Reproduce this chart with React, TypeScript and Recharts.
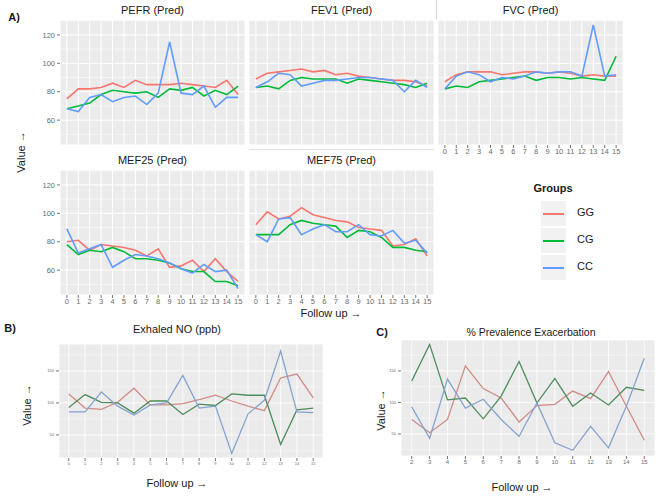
import { CartesianGrid, Line, LineChart, XAxis, YAxis } from "recharts";

const followUp = [0, 1, 2, 3, 4, 5, 6, 7, 8, 9, 10, 11, 12, 13, 14, 15];
const visits = [2, 3, 4, 5, 6, 7, 8, 9, 10, 11, 12, 13, 14, 15];
const groups = ["GG", "CG", "CC"];

// panel A, % predicted
const pefrGG = [75, 82, 82, 83, 86, 83, 88, 85, 85, 85, 86, 85, 84, 83, 88, 78];
const pefrCG = [68, 70, 72, 78, 81, 80, 79, 80, 76, 82, 81, 83, 77, 81, 78, 84];
const pefrCC = [68, 66, 76, 78, 73, 76, 77, 71, 79, 115, 79, 78, 84, 69, 76, 76];

const fev1GG = [89, 93, 94, 95, 96, 94, 95, 92, 93, 91, 90, 89, 88, 88, 87, 84];
const fev1CG = [83, 84, 82, 88, 90, 89, 89, 89, 86, 89, 88, 87, 86, 85, 83, 86];
const fev1CC = [83, 87, 93, 92, 84, 86, 88, 88, 89, 90, 90, 89, 88, 80, 88, 83];

const fvcGG = [87, 92, 94, 94, 94, 92, 93, 94, 94, 93, 94, 93, 91, 92, 91, 91];
const fvcCG = [82, 84, 83, 87, 88, 89, 90, 91, 88, 90, 90, 89, 90, 89, 88, 105];
const fvcCC = [82, 91, 94, 92, 87, 90, 89, 91, 94, 93, 94, 94, 91, 127, 91, 92];

const mef25GG = [80, 81, 74, 78, 77, 76, 74, 70, 75, 62, 63, 67, 59, 68, 59, 52];
const mef25CG = [78, 71, 74, 73, 76, 73, 68, 68, 67, 65, 61, 59, 59, 52, 52, 49];
const mef25CC = [89, 72, 75, 78, 62, 67, 71, 70, 68, 65, 61, 58, 64, 59, 60, 47];

const mef75GG = [92, 101, 96, 98, 104, 99, 97, 95, 94, 90, 89, 88, 77, 78, 82, 70];
const mef75CG = [85, 85, 85, 92, 95, 93, 92, 91, 83, 88, 87, 83, 76, 76, 74, 73];
const mef75CC = [85, 80, 96, 97, 85, 89, 92, 87, 87, 92, 85, 84, 88, 79, 81, 72];

// panel B
const enoGG = [114, 92, 90, 101, 123, 97, 97, 99, 105, 112, 103, 95, 88, 139, 145, 108];
const enoCG = [93, 113, 101, 100, 84, 103, 103, 82, 98, 96, 114, 112, 112, 35, 89, 92];
const enoCC = [86, 86, 117, 95, 81, 97, 100, 143, 92, 95, 21, 83, 104, 181, 86, 85];

// panel C
const exaGG = [73, 52, 73, 158, 122, 107, 69, 95, 97, 118, 106, 149, 94, 40];
const exaCG = [134, 192, 104, 107, 74, 110, 165, 99, 138, 94, 115, 96, 124, 119];
const exaCC = [93, 43, 137, 91, 105, 73, 46, 99, 36, 24, 62, 28, 94, 170];

const aTicks = [60, 80, 100, 120];
const aMinor = [50, 70, 90, 110, 130];
const bcTicks = [50, 100, 150];
const bcMinor = [25, 75, 125, 175];

const colorsA = ["#F8766D", "#00BA38", "#619CFF"];
const colorsBC = ["#D08C86", "#4F8C5E", "#86A3CF"];

const font = "'Liberation Sans', Arial, Helvetica, sans-serif";

type Row = { x: number; GG: number; CG: number; CC: number };

function rows(xs: number[], gg: number[], cg: number[], cc: number[]): Row[] {
  return xs.map((x, i) => ({ x, GG: gg[i], CG: cg[i], CC: cc[i] }));
}

type FacetProps = {
  left: number;
  top: number;
  w: number;
  h: number;
  data: Row[];
  xTicks: number[];
  xDomain: [number, number];
  yTicks: number[];
  yMinor: number[];
  yDomain: [number, number];
  showX?: boolean;
  showY?: boolean;
  yAxisW?: number;
  xAxisH?: number;
  tickFont: number;
  yTickFont?: number;
  colors: string[];
  lineWidth: number;
  grid: number;
};

function Facet(p: FacetProps) {
  const yw = p.showY ? p.yAxisW || 24 : 0;
  const xh = p.showX ? p.xAxisH || 14 : 0;
  const xTick = { fontSize: p.tickFont, fill: "#6b6b6b", fontFamily: font };
  const yTick = { fontSize: p.yTickFont || p.tickFont, fill: "#6b6b6b", fontFamily: font };
  return (
    <div style={{ position: "absolute", left: p.left - yw, top: p.top }}>
      <LineChart
        width={p.w + yw}
        height={p.h + xh}
        data={p.data}
        margin={{ top: 0, right: 0, bottom: 0, left: 0 }}
      >
        <CartesianGrid fill="#EBEBEB" stroke="#ffffff" strokeWidth={p.grid} />
        <CartesianGrid
          vertical={false}
          horizontalValues={p.yMinor}
          stroke="#ffffff"
          strokeWidth={p.grid / 2}
        />
        <XAxis
          type="number"
          dataKey="x"
          domain={p.xDomain}
          ticks={p.xTicks}
          interval={0}
          allowDataOverflow
          hide={!p.showX}
          height={xh}
          axisLine={false}
          tickSize={3}
          tickMargin={1}
          tickLine={{ stroke: "#777" }}
          tick={xTick}
        />
        <YAxis
          type="number"
          domain={p.yDomain}
          ticks={p.yTicks}
          interval={0}
          allowDataOverflow
          hide={!p.showY}
          width={yw}
          axisLine={false}
          tickSize={3}
          tickMargin={2}
          tickLine={{ stroke: "#777" }}
          tick={yTick}
        />
        {groups.map((g, i) => (
          <Line
            key={g}
            type="linear"
            dataKey={g}
            stroke={p.colors[i]}
            strokeWidth={p.lineWidth}
            dot={false}
            isAnimationActive={false}
          />
        ))}
      </LineChart>
    </div>
  );
}

function Label(props: { x: number; y: number; text: string; size?: number; bold?: boolean; rotate?: boolean }) {
  return (
    <div
      style={{
        position: "absolute",
        left: props.x,
        top: props.y,
        transform: `translate(-50%, -50%)${props.rotate ? " rotate(-90deg)" : ""}`,
        fontSize: props.size || 11,
        fontWeight: props.bold ? 700 : 400,
        fontFamily: font,
        color: "#1a1a1a",
        whiteSpace: "nowrap",
        lineHeight: 1,
      }}
    >
      {props.text}
    </div>
  );
}

const aFacet = {
  w: 185,
  h: 125,
  xTicks: followUp,
  xDomain: [-0.6, 15.6] as [number, number],
  yTicks: aTicks,
  yMinor: aMinor,
  yDomain: [42.5, 130.5] as [number, number],
  tickFont: 7.5,
  colors: colorsA,
  lineWidth: 1.6,
  grid: 1,
};

const facetsA = [
  { title: "PEFR (Pred)", left: 60, top: 20, data: rows(followUp, pefrGG, pefrCG, pefrCC), showY: true },
  { title: "FEV1 (Pred)", left: 249, top: 20, data: rows(followUp, fev1GG, fev1CG, fev1CC) },
  { title: "FVC (Pred)", left: 438, top: 20, data: rows(followUp, fvcGG, fvcCG, fvcCC), showX: true },
  { title: "MEF25 (Pred)", left: 60, top: 170, data: rows(followUp, mef25GG, mef25CG, mef25CC), showY: true, showX: true },
  { title: "MEF75 (Pred)", left: 249, top: 170, data: rows(followUp, mef75GG, mef75CG, mef75CC), showX: true },
];

export default function App() {
  return (
    <div style={{ position: "absolute", left: 0, top: 0, width: 656, height: 496, background: "#fff", fontFamily: font }}>
      <Label x={14} y={17} text="A)" bold />
      {facetsA.map((f) => (
        <div key={f.title}>
          <Label x={f.left + aFacet.w / 2} y={f.top - 10} text={f.title} />
          <Facet {...aFacet} left={f.left} top={f.top} data={f.data} showX={f.showX} showY={f.showY} />
        </div>
      ))}
      <div style={{ position: "absolute", left: 436, top: 0, width: 1, height: 19, background: "#d6d6d6" }} />
      <div style={{ position: "absolute", left: 249, top: 149, width: 185, height: 1, background: "#e2e2e2" }} />
      <Label x={21} y={152} text="Value →" rotate />
      <Label x={331} y={313} text="Follow up →" />

      <Label x={553} y={188} text="Groups" bold />
      {groups.map((g, i) => (
        <div key={g}>
          <div style={{ position: "absolute", left: 541, top: 201 + i * 27, width: 25, height: 25, background: "#F2F2F2" }}>
            <div style={{ position: "absolute", left: 2, top: 12, width: 21, height: 2, background: colorsA[i] }} />
          </div>
          <div style={{ position: "absolute", left: 577, top: 207 + i * 27, fontSize: 11, fontFamily: font, color: "#1a1a1a", lineHeight: 1 }}>
            {g}
          </div>
        </div>
      ))}

      <Label x={10} y={328} text="B)" bold />
      <Label x={177} y={329} text="Exhaled NO (ppb)" />
      <Facet
        left={59}
        top={344}
        w={264}
        h={114}
        data={rows(followUp, enoGG, enoCG, enoCC)}
        xTicks={followUp}
        xDomain={[-0.6, 15.6]}
        yTicks={bcTicks}
        yMinor={bcMinor}
        yDomain={[14, 192]}
        showX
        showY
        yAxisW={14}
        xAxisH={10}
        tickFont={4}
        colors={colorsBC}
        lineWidth={1.3}
        grid={0.8}
      />
      <Label x={27} y={405} text="Value →" rotate />
      <Label x={177} y={483} text="Follow up →" />

      <Label x={382} y={332} text="C)" bold />
      <Label x={531} y={332} text="% Prevalence Exacerbation" size={10.5} />
      <Facet
        left={401}
        top={340}
        w={254}
        h={116}
        data={rows(visits, exaGG, exaCG, exaCC)}
        xTicks={visits}
        xDomain={[1.4, 15.6]}
        yTicks={bcTicks}
        yMinor={bcMinor}
        yDomain={[15, 199]}
        showX
        showY
        yAxisW={13}
        xAxisH={12}
        tickFont={6}
        yTickFont={4}
        colors={colorsBC}
        lineWidth={1.3}
        grid={0.8}
      />
      <Label x={381} y={410} text="Value →" rotate />
      <Label x={522} y={487} text="Follow up →" />
    </div>
  );
}
